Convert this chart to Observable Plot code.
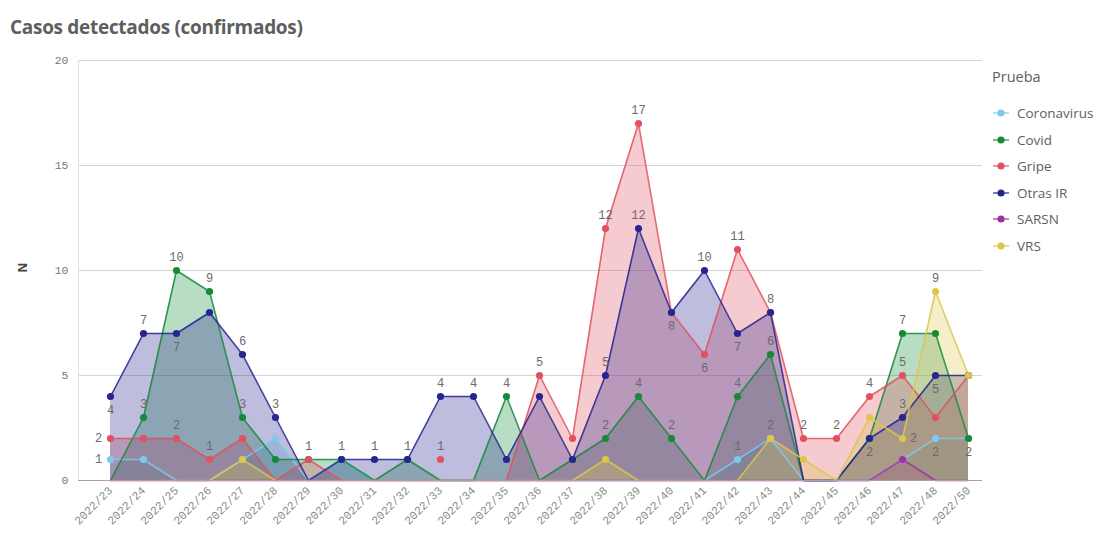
<!DOCTYPE html>
<html><head><meta charset="utf-8">
<script src="https://cdn.jsdelivr.net/npm/d3@7"></script>
<script src="https://cdn.jsdelivr.net/npm/@observablehq/plot@0.6"></script>
<style>
body{margin:0;background:#fff;}
#wrap{position:relative;width:1108px;height:535px;overflow:hidden;font-family:"Open Sans",sans-serif;}
#title{position:absolute;left:10px;top:14px;font-size:19px;font-weight:700;color:#5e5e5e;letter-spacing:-0.3px;}
#chart{position:absolute;left:0;top:45px;}
#ylab{position:absolute;left:18px;top:259px;transform:rotate(-90deg);font-size:12px;font-weight:700;color:#444;}
#legend{position:absolute;left:992px;top:67px;color:#5e5e5e;}
#legend .lt{font-size:14.5px;margin-bottom:14px;}
#legend .it{display:flex;align-items:center;height:26.5px;font-size:13.5px;}
#legend svg{margin-right:7px;}
</style>
</head><body>
<div id="wrap">
  <div id="title">Casos detectados (confirmados)</div>
  <div id="ylab">N</div>
  <div id="chart"></div>
  <div id="legend"></div>
</div>
<script>
const weeks = ["2022/23","2022/24","2022/25","2022/26","2022/27","2022/28","2022/29","2022/30","2022/31","2022/32","2022/33","2022/34","2022/35","2022/36","2022/37","2022/38","2022/39","2022/40","2022/41","2022/42","2022/43","2022/44","2022/45","2022/46","2022/47","2022/48","2022/50"];
const seriesNames = ["Coronavirus","Covid","Gripe","Otras IR","SARSN","VRS"];
const seriesColors = ["#7ccbee","#178a3a","#e0525f","#272590","#a22ea3","#dcc64b"];
const coronavirus = [1,1,0,0,1,2,0,1,0,0,0,0,0,0,0,0,0,0,0,1,2,0,0,0,1,2,2];
const covid       = [0,3,10,9,3,1,1,1,0,1,0,0,4,0,1,2,4,2,0,4,6,0,0,2,7,7,2];
const gripe       = [2,2,2,1,2,0,1,0,null,null,1,null,0,5,2,12,17,8,6,11,8,2,2,4,5,3,5];
const otrasIR     = [4,7,7,8,6,3,0,1,1,1,4,4,1,4,1,5,12,8,10,7,8,0,0,2,3,5,5];
const sarsn       = [0,0,0,0,0,0,0,0,0,0,0,0,0,0,0,0,0,0,0,0,0,0,0,0,1,0,0];
const vrs         = [0,0,0,0,1,0,0,0,0,0,0,0,0,0,0,1,0,0,0,0,2,1,0,3,2,9,5];

const labelsAbove = ["Otras IR|2022/24","Covid|2022/24","Covid|2022/25","Gripe|2022/25","Covid|2022/26","Gripe|2022/26","Otras IR|2022/27","Covid|2022/27","Otras IR|2022/28","Gripe|2022/29","Otras IR|2022/30","Otras IR|2022/31","Otras IR|2022/32","Otras IR|2022/33","Gripe|2022/33","Otras IR|2022/34","Covid|2022/35","Gripe|2022/36","Gripe|2022/38","Otras IR|2022/38","Covid|2022/38","Gripe|2022/39","Otras IR|2022/39","Covid|2022/39","Covid|2022/40","Otras IR|2022/41","Gripe|2022/42","Covid|2022/42","Coronavirus|2022/42","Otras IR|2022/43","Covid|2022/43","VRS|2022/43","Gripe|2022/44","Gripe|2022/45","Gripe|2022/46","Covid|2022/47","Gripe|2022/47","Otras IR|2022/47","VRS|2022/48"];
const labelsBelow = ["Otras IR|2022/23","Otras IR|2022/25","Gripe|2022/40","Gripe|2022/41","Otras IR|2022/42","Otras IR|2022/46","Otras IR|2022/48","Coronavirus|2022/48","Covid|2022/50"];
const labelsLeft = ["Gripe|2022/23","Coronavirus|2022/23"];
const labelsRight = ["VRS|2022/47"];

const seriesValues = [coronavirus, covid, gripe, otrasIR, sarsn, vrs];
const rows = [];
seriesNames.forEach((s, i) => weeks.forEach((w, j) => rows.push({s, week: w, v: seriesValues[i][j]})));
const pick = keys => rows.filter(d => keys.includes(d.s + "|" + d.week));

const chart = Plot.plot({
  width: 1108, height: 490,
  marginTop: 15, marginBottom: 55, marginLeft: 78, marginRight: 126,
  style: {fontFamily: "Liberation Mono, monospace", fontSize: "11.5px", color: "#666", background: "transparent"},
  x: {type: "point", domain: weeks, padding: 0, insetLeft: 22, insetRight: 4, label: null},
  y: {domain: [0, 20], label: null},
  color: {domain: seriesNames, range: seriesColors},
  marks: [
    Plot.gridY([5, 10, 15, 20], {stroke: "#d9d3d3", strokeOpacity: 1, strokeWidth: 1.2}),
    Plot.frame({anchor: "left", stroke: "#e2dddd"}),
    Plot.axisY({ticks: [0, 5, 10, 15, 20], tickSize: 0, tickPadding: 10, fill: "#777"}),
    Plot.axisX({tickSize: 0, tickRotate: -45, tickPadding: 8, fill: "#8a8a8a"}),
    Plot.areaY(rows, {x: "week", y1: 0, y2: "v", z: "s", fill: "s", fillOpacity: 0.3, curve: "linear"}),
    Plot.line(rows, {x: "week", y: "v", z: "s", stroke: "s", strokeWidth: 1.6, strokeOpacity: 0.85}),
    Plot.ruleY([0], {stroke: "#b79aa8", strokeWidth: 1.2}),
    Plot.dot(rows.filter(d => d.v > 0), {x: "week", y: "v", fill: "s", r: 3.6}),
    Plot.text(pick(labelsAbove), {x: "week", y: "v", text: d => String(d.v), dy: -13, fill: "#6a6a6a", fontSize: 12}),
    Plot.text(pick(labelsBelow), {x: "week", y: "v", text: d => String(d.v), dy: 14, fill: "#6a6a6a", fontSize: 12}),
    Plot.text(pick(labelsLeft), {x: "week", y: "v", text: d => String(d.v), dx: -12, fill: "#6a6a6a", fontSize: 12}),
    Plot.text(pick(labelsRight), {x: "week", y: "v", text: d => String(d.v), dx: 11, fill: "#6a6a6a", fontSize: 12})
  ]
});
document.getElementById("chart").appendChild(chart);

const legend = document.getElementById("legend");
legend.innerHTML = '<div class="lt">Prueba</div>' + seriesNames.map((s, i) =>
  `<div class="it"><svg width="18" height="10"><line x1="1" y1="5" x2="17" y2="5" stroke="${seriesColors[i]}" stroke-width="2" stroke-opacity="0.6"/><circle cx="9" cy="5" r="3.6" fill="${seriesColors[i]}"/></svg>${s}</div>`
).join("");
</script>
</body></html>
